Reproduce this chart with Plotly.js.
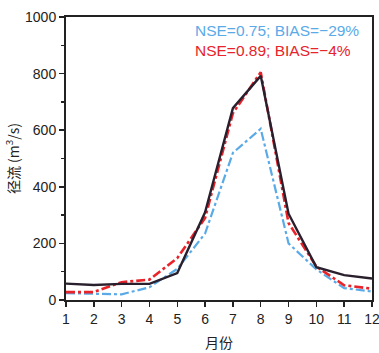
<!DOCTYPE html>
<html><head><meta charset="utf-8">
<script src="https://cdn.plot.ly/plotly-3.0.1.min.js"></script>
<style>body{margin:0;background:#fff}#c{width:379px;height:353px}</style>
</head><body><div id="c"></div>
<script>
const months = [1,2,3,4,5,6,7,8,9,10,11,12];
const observed = [58,53,57,57,95,310,678,792,305,116,88,76];
const simRed = [28,28,63,72,148,290,660,805,272,118,52,40];
const simBlue = [24,22,20,45,110,235,520,605,200,108,42,30];
const yTicks = [0,200,400,600,800,1000];

const traces = [
  {x: months, y: simBlue, mode:'lines', line:{color:'#5aaae8', width:2.2, dash:'dashdot'}},
  {x: months, y: simRed, mode:'lines', line:{color:'#e8232a', width:2.6, dash:'dashdot'}},
  {x: months, y: observed, mode:'lines', line:{color:'#2a1f2d', width:2.4}}
];
const font = {family:'Liberation Sans, Arial, sans-serif', size:14, color:'#222'};
const layout = {
  width:379, height:353,
  margin:{l:66, r:7, t:17, b:53},
  showlegend:false,
  paper_bgcolor:'#fff', plot_bgcolor:'#fff',
  font: font,
  xaxis:{range:[1,12], tickvals:months, ticks:'outside', ticklen:5, tickwidth:1.5, tickcolor:'#222',
    ticklabeloverflow:'allow',
    showline:true, mirror:true, linecolor:'#222', linewidth:2, showgrid:false, zeroline:false,
    title:{text:'月份', font:{family:'Noto Sans CJK SC', size:14, color:'#222'}, standoff:12}},
  yaxis:{range:[0,1000], tickvals:yTicks, ticks:'outside', ticklen:5, tickwidth:1.5, tickcolor:'#222',
    minor:{dtick:100, ticks:'outside', ticklen:3, tickcolor:'#222', showgrid:false},
    showline:true, mirror:true, linecolor:'#222', linewidth:2, showgrid:false, zeroline:false,
    title:{text:'径流 (m<sup>3</sup>/s)', font:{family:'Noto Sans CJK SC', size:14, color:'#222'}, standoff:2}},
  annotations:[
    {xref:'paper', yref:'paper', x:0.415, y:0.954, xanchor:'left', yanchor:'middle', showarrow:false,
     text:'NSE=0.75; BIAS=−29%', font:{family:'Liberation Sans, Arial', size:15.5, color:'#5aaae8'}},
    {xref:'paper', yref:'paper', x:0.415, y:0.883, xanchor:'left', yanchor:'middle', showarrow:false,
     text:'NSE=0.89; BIAS=−4%', font:{family:'Liberation Sans, Arial', size:15.5, color:'#e8232a'}}
  ]
};
Plotly.newPlot('c', traces, layout, {displayModeBar:false, staticPlot:true});
</script></body></html>
